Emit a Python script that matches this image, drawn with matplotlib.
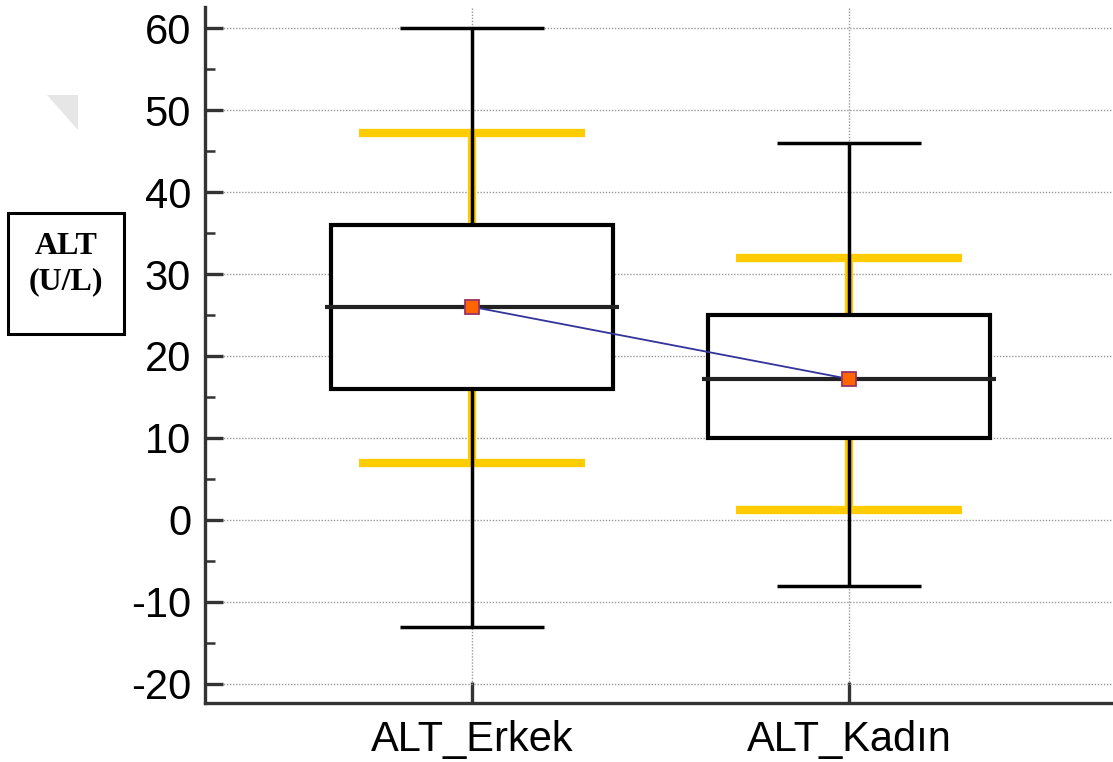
import matplotlib
matplotlib.use("Agg")
import matplotlib.pyplot as plt
from matplotlib.patches import Rectangle, Polygon

# ---- data ----
groups = ["ALT_Erkek", "ALT_Kadın"]
whisker_low = [-13, -8]
q1 = [16, 10]
median = [26, 17.2]
q3 = [36, 25]
whisker_high = [60, 46]
means = [26, 17.2]
ref_low = [7, 1.2]      # yellow reference bars
ref_high = [47.2, 32]

yticks = [-20, -10, 0, 10, 20, 30, 40, 50, 60]

plt.rcParams["font.family"] = ["Liberation Sans", "DejaVu Sans"]
plt.rcParams["axes.unicode_minus"] = False

fig = plt.figure(figsize=(11.13, 7.62), dpi=100)
ax = fig.add_axes([0.1842, 0.0774, 0.8158, 0.9134])

pos = list(range(len(groups)))
box_hw, cap_hw, ref_hw, med_hw = 0.374, 0.19, 0.30, 0.39
yellow = "#FFCC00"

for i, x in enumerate(pos):
    # yellow reference range
    ax.vlines(x, ref_low[i], ref_high[i], color=yellow, lw=6, zorder=2)
    ax.hlines([ref_low[i], ref_high[i]], x - ref_hw, x + ref_hw, color=yellow, lw=6, zorder=2)
    # whiskers and caps
    ax.vlines(x, whisker_low[i], whisker_high[i], color="black", lw=2.5, zorder=3)
    ax.hlines([whisker_low[i], whisker_high[i]], x - cap_hw, x + cap_hw, color="black", lw=2.5, zorder=3)
    # box
    ax.add_patch(Rectangle((x - box_hw, q1[i]), 2 * box_hw, q3[i] - q1[i],
                           facecolor="white", edgecolor="black", lw=3, zorder=4))
    ax.hlines(median[i], x - med_hw, x + med_hw, color="#222222", lw=3, zorder=5)

ax.plot(pos, means, color="#333399", lw=1.3, zorder=6)
ax.plot(pos, means, ls="none", marker="s", ms=10, mfc="#FF6600", mec="#993366", mew=1.3, zorder=7)

ax.set_xlim(-0.708, 1.70)
ax.set_ylim(-22.32, 62.56)
ax.set_xticks(pos)
ax.set_xticklabels(groups)
ax.set_yticks(yticks)
ax.set_yticks([v + 5 for v in yticks[:-1]], minor=True)

ax.grid(True, which="major", color="#999999", ls=(0, (1, 1.2)), lw=1.0, zorder=0)
ax.set_axisbelow(True)

for s in ["top", "right"]:
    ax.spines[s].set_visible(False)
for s in ["left", "bottom"]:
    ax.spines[s].set_color("#333333")
    ax.spines[s].set_linewidth(2.4)

ax.tick_params(axis="y", which="major", direction="in", length=13, width=2.4,
               color="#333333", labelsize=30, pad=10)
ax.tick_params(axis="y", which="minor", direction="in", length=7, width=1.8, color="#333333")
ax.tick_params(axis="x", which="major", direction="in", length=15, width=2.4,
               color="#333333", labelsize=30, pad=12)
ax.tick_params(axis="x", which="minor", length=0)

# y-axis title box
fig.add_artist(Rectangle((8 / 1113, 1 - 334 / 762), 116 / 1113, 121 / 762,
                         transform=fig.transFigure, fill=False, ec="black", lw=2.2))
fig.text(66 / 1113, 1 - 264 / 762, "ALT\n(U/L)", ha="center", va="center",
         fontsize=23, fontweight="bold", family=["Liberation Serif", "DejaVu Serif"],
         linespacing=1.25)

# faint decorative fold in the top-left corner
fig.add_artist(Polygon([(47 / 1113, 1 - 95 / 762), (78 / 1113, 1 - 95 / 762),
                        (78 / 1113, 1 - 130 / 762)], closed=True,
                       transform=fig.transFigure, fc="#e6e6e6", ec="none"))

fig.savefig("out.png", dpi=100, facecolor="white")
